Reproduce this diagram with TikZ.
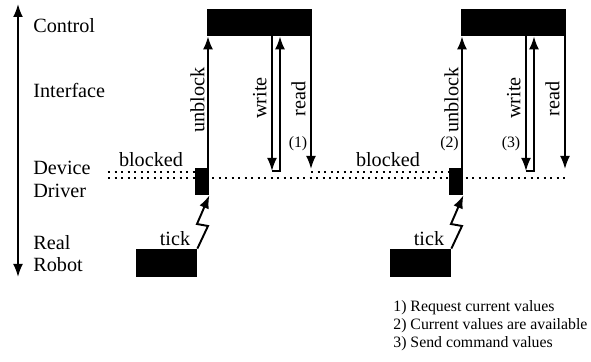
\documentclass[tikz,border=0pt]{standalone}
\usepackage{fontspec}
\setmainfont{Liberation Serif}
\usetikzlibrary{arrows.meta}

\begin{document}
\begin{tikzpicture}[
    blk/.style={fill=black,inner sep=0pt},
    arr/.style={line width=1.1pt,-{Latex[length=0.26cm,width=0.2cm]}},
    dots/.style={line width=1.2pt,dash pattern=on 1.2pt off 2.5pt},
    lbl/.style={font=\fontsize{11.5}{13.8}\selectfont,inner sep=0pt},
    small/.style={font=\fontsize{9}{10.25}\selectfont,inner sep=0pt}
]
    \useasboundingbox (0,0) rectangle (11.82,7.24);

    % layers
    \coordinate (top) at (0.36,7.16);
    \coordinate (bot) at (0.36,1.70);
    \draw[arr,{Latex[length=0.26cm,width=0.2cm]}-{Latex[length=0.26cm,width=0.2cm]}] (bot) -- (top);
    \node[lbl,anchor=base west] (lctrl) at (0.66,6.58) {Control};
    \node[lbl,anchor=base west] (lif) at (0.66,5.28) {Interface};
    \node[lbl,anchor=base west] (ldev) at (0.66,3.74) {Device};
    \node[lbl,anchor=base west] (ldrv) at (0.66,3.28) {Driver};
    \node[lbl,anchor=base west] (lreal) at (0.66,2.24) {Real};
    \node[lbl,anchor=base west] (lrob) at (0.66,1.80) {Robot};

    % one cycle, drawn twice
    \foreach \g/\dx in {1/0,2/5.08}{
    \begin{scope}[xshift=\dx cm]
        \node[blk,minimum width=2.1cm,minimum height=0.54cm] (ctrl\g) at (5.19,6.79) {};
        \node[blk,minimum width=0.28cm,minimum height=0.54cm] (drv\g) at (4.04,3.61) {};
        \node[blk,minimum width=1.22cm,minimum height=0.56cm] (rob\g) at (3.33,1.98) {};
        \coordinate (ub\g) at (4.16,3.88);
        \coordinate (wr\g) at (5.44,3.82);
        \coordinate (rt\g) at (5.60,3.82);
        \coordinate (rd\g) at (6.22,3.86);
        \coordinate (za\g) at (4.16,2.72);
        \coordinate (zb\g) at (3.94,2.76);
        \draw[arr] (ub\g) -- (ub\g |- ctrl\g.south);
        \draw[arr] (wr\g |- ctrl\g.south) -- (wr\g);
        \draw[arr] (wr\g) -- (rt\g) -- (rt\g |- ctrl\g.south);
        \draw[arr] (rd\g |- ctrl\g.south) -- (rd\g);
        \draw[arr] (rob\g.north east) -- (za\g) -- (zb\g) -- (drv\g.south east);
        \node[lbl,rotate=90,anchor=south] (tub\g) at (4.10,5.24) {unblock};
        \node[lbl,rotate=90,anchor=south] (twr\g) at (5.34,5.28) {write};
        \node[lbl,rotate=90,anchor=south] (trd\g) at (6.12,5.26) {read};
        \node[lbl,anchor=base] (ttick\g) at (3.50,2.32) {tick};
    \end{scope}
    }

    % driver waiting
    \coordinate (da) at (2.16,3.80);
    \coordinate (ea) at (2.16,3.68);
    \coordinate (eb) at (11.30,3.68);
    \draw[dots] (da) -- (drv1.west |- da);
    \draw[dots] (rd1 |- da) -- (drv2.west |- da);
    \draw[dots] (ea) -- (eb);
    \node[lbl,anchor=base] (bl1) at (3.02,3.90) {blocked};
    \node[lbl,anchor=base] (bl2) at (7.76,3.90) {blocked};

    \node[small] (n1) at (5.96,4.37) {(1)};
    \node[small] (n2) at (8.99,4.37) {(2)};
    \node[small] (n3) at (10.22,4.37) {(3)};

    % legend
    \node[small,anchor=base west] (leg1) at (7.86,1.00) {1) Request current values};
    \node[small,anchor=base west] (leg2) at (7.86,0.64) {2) Current values are available};
    \node[small,anchor=base west] (leg3) at (7.86,0.28) {3) Send command values};
\end{tikzpicture}
\end{document}
